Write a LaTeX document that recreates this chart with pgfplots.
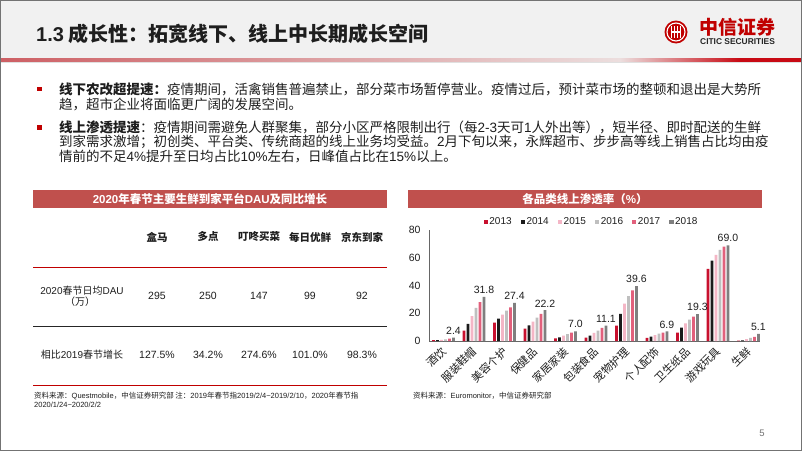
\documentclass[border=0pt]{standalone}
\usepackage{fontspec}
\setmainfont{Noto Sans CJK SC}
\newfontfamily\arialfont{Liberation Sans}
\usepackage{pgfplots}
\pgfplotsset{compat=1.18}
\usepackage{pgfplotstable}
\definecolor{titlered}{RGB}{192,80,77}
\definecolor{cred}{RGB}{192,0,0}
\definecolor{c13}{RGB}{200,16,46}
\definecolor{c14}{RGB}{26,26,26}
\definecolor{c15}{RGB}{244,182,198}
\definecolor{c16}{RGB}{191,191,191}
\definecolor{c17}{RGB}{226,96,124}
\definecolor{c18}{RGB}{127,127,127}
\definecolor{txt}{RGB}{30,30,30}
\definecolor{hdr}{RGB}{241,241,241}
\definecolor{lineA}{RGB}{205,95,100}
\definecolor{lineB}{RGB}{236,222,222}
\definecolor{lineC}{RGB}{200,10,20}
\newcommand\fs[1]{\fontsize{#1bp}{#1bp}\selectfont}
\newcommand\ar[1]{{\arialfont #1}}

\pgfplotstableread{
x a b c d e f
0 0.6 0.7 0.9 1.1 1.8 2.4
1 7.4 12.3 18.0 23.8 28.1 31.8
2 13.2 16.1 19.0 21.9 24.3 27.4
3 8.9 11.3 13.9 16.8 19.5 22.2
4 1.9 2.6 3.8 5.0 6.0 7.0
5 2.4 3.8 5.8 7.4 9.4 11.1
6 11.0 19.5 26.9 32.4 36.5 39.6
7 2.2 3.1 4.3 5.3 6.0 6.9
8 6.0 9.6 12.7 15.4 17.5 19.3
9 51.9 57.9 62.0 65.6 68.0 69.0
10 0.2 0.4 1.4 2.2 2.9 5.1
}\pendata

\begin{document}
\begin{tikzpicture}
\path[use as bounding box] (0,0) rectangle (802bp,-451bp);
\begin{scope}[x=1bp,y=-1bp]
\fill[white] (0,0) rectangle (802,451);
\fill[hdr] (1,1) rectangle (801,58);
% header line
\shade[left color=lineA, right color=lineB] (1,58) rectangle (620,61.5);
\shade[left color=lineB, right color=lineC] (620,58) rectangle (740,61.5);
\fill[lineC] (740,58) rectangle (801,61.5);
\fill[black!12] (1,61.5) rectangle (801,62.5);
% title
\node[anchor=west, inner sep=0, font={\fs{20}\bfseries}, text=txt] at (36,33.5) {\ar{1.3} 成长性：拓宽线下、线上中长期成长空间};
% logo
\fill[cred] (676,32) circle (11.5);
\draw[white, line width=1.1] (676,32) circle (9);
\fill[cred] (676,32) circle (7.6);
\foreach \dx in {-4.6,-1.6,1.6,4.6} \draw[white, line width=1.2] (676+\dx,26) -- (676+\dx,38);
\draw[white, line width=1.2] (671.4,32) -- (680.6,32);
\node[anchor=west, inner sep=0, font={\fs{19}\bfseries}, text=cred] at (699,27.5) {中信证券};
\node[anchor=west, inner sep=0, font={\arialfont\fs{8.4}\bfseries}, text=black!85] at (700,41.5) {CITIC SECURITIES};
% bullets
\fill[cred] (37,86.8) rectangle (41.5,91.3);
\fill[cred] (37,125.3) rectangle (41.5,129.8);
\begin{scope}[every node/.style={anchor=west, inner sep=0, font={\fs{13.5}}, text=txt}]
\node at (59,89) {\textbf{线下农改超提速：}疫情期间，活禽销售普遍禁止，部分菜市场暂停营业。疫情过后，预计菜市场的整顿和退出是大势所};
\node at (59,104) {趋，超市企业将面临更广阔的发展空间。};
\node at (59,127.5) {\textbf{线上渗透提速}：疫情期间需避免人群聚集，部分小区严格限制出行（每\ar{2-3}天可\ar{1}人外出等），短半径、即时配送的生鲜};
\node at (59,142.3) {到家需求激增；初创类、平台类、传统商超的线上业务均受益。\ar{2}月下旬以来，永辉超市、步步高等线上销售占比均由疫};
\node at (59,156.8) {情前的不足\ar{4\%}提升至日均占比\ar{10\%}左右，日峰值占比在\ar{15\%}以上。};
\end{scope}
% left table
\fill[titlered] (33,190) rectangle (387,208);
\node[inner sep=0, font={\fs{11.5}\bfseries}, text=white] at (210,199) {\ar{2020}年春节主要生鲜到家平台\ar{DAU}及同比增长};
\begin{scope}[every node/.style={inner sep=0, font={\fs{10.5}}, text=txt}]
\node[font={\fs{10.5}\bfseries}] at (157,237) {盒马};
\node[font={\fs{10.5}\bfseries}] at (208,237) {多点};
\node[font={\fs{10.5}\bfseries}] at (259,237) {叮咚买菜};
\node[font={\fs{10.5}\bfseries}] at (310,237) {每日优鲜};
\node[font={\fs{10.5}\bfseries}] at (362,237) {京东到家};
\node[font={\fs{10}}] at (82,291) {\ar{2020}春节日均\ar{DAU}};
\node[font={\fs{10}}] at (80,301.5) {（万）};
\node[font={\arialfont\fs{10.5}}] at (157,296) {295};
\node[font={\arialfont\fs{10.5}}] at (208,296) {250};
\node[font={\arialfont\fs{10.5}}] at (259,296) {147};
\node[font={\arialfont\fs{10.5}}] at (310,296) {99};
\node[font={\arialfont\fs{10.5}}] at (362,296) {92};
\node[font={\fs{10}}] at (82,355) {相比\ar{2019}春节增长};
\node[font={\arialfont\fs{10.5}}] at (157,355) {127.5\%};
\node[font={\arialfont\fs{10.5}}] at (208,355) {34.2\%};
\node[font={\arialfont\fs{10.5}}] at (259,355) {274.6\%};
\node[font={\arialfont\fs{10.5}}] at (310,355) {101.0\%};
\node[font={\arialfont\fs{10.5}}] at (362,355) {98.3\%};
\end{scope}
\draw[cred, line width=0.9] (33,267) -- (387,267);
\draw[black!85, line width=0.9] (33,326) -- (387,326);
\draw[cred, line width=0.9] (33,385) -- (387,385);
\node[anchor=west, inner sep=0, font={\fs{7.5}}, text=txt] at (34,396) {资料来源：\ar{Questmobile}，中信证券研究部 注：\ar{2019}年春节指\ar{2019/2/4\textasciitilde2019/2/10}，\ar{2020}年春节指};
\node[anchor=west, inner sep=0, font={\arialfont\fs{7.5}}, text=txt] at (34,404.5) {2020/1/24\textasciitilde2020/2/2};
% right chart title
\fill[titlered] (408,190) rectangle (762,208);
\node[inner sep=0, font={\fs{11.5}\bfseries}, text=white] at (585,199) {各品类线上渗透率（\ar{\%}）};
\node[anchor=west, inner sep=0, font={\fs{7.5}}, text=txt] at (413,396) {资料来源：\ar{Euromonitor}，中信证券研究部};
\node[inner sep=0, font={\arialfont\fs{9.5}}, text=black!55] at (762,433) {5};
\end{scope}

\begin{axis}[
  at={(429bp,-341bp)}, anchor=south west,
  width=331bp, height=111bp, scale only axis,
  ybar=1.3bp, bar width=2.7bp,
  enlargelimits=false,
  xmin=-0.475, xmax=10.38, ymin=0, ymax=80,
  ytick={0,20,40,60,80},
  xtick={0,...,10},
  xticklabels={酒饮,服装鞋帽,美容个护,保健品,家居家装,包装食品,宠物护理,个人配饰,卫生纸品,游戏玩具,生鲜},
  axis x line*=bottom, axis y line*=left,
  axis line style={black!60, line width=0.8bp},
  major tick length=0pt,
  /pgf/number format/assume math mode=true,
  yticklabel style={font={\arialfont\fs{10.5}}, text=txt, xshift=-5bp},
  xticklabel style={font={\fs{11}}, text=txt, xshift=3bp, yshift=-6bp, rotate=45, anchor=east},
  legend columns=6,
  legend style={at={(0.49,1.072)}, anchor=center, draw=none, fill=none,
    font={\arialfont\fs{10}}, text=txt,
    nodes={inner sep=1.5bp},
    /tikz/every even column/.append style={column sep=7.5bp}},
  legend image code/.code={\fill[#1] (0bp,-2.2bp) rectangle (4.4bp,2.2bp);},
]
\addplot[fill=c13, draw=none] table[x=x,y=a]{\pendata};
\addplot[fill=c14, draw=none] table[x=x,y=b]{\pendata};
\addplot[fill=c15, draw=none] table[x=x,y=c]{\pendata};
\addplot[fill=c16, draw=none] table[x=x,y=d]{\pendata};
\addplot[fill=c17, draw=none] table[x=x,y=e]{\pendata};
\addplot[fill=c18, draw=none,
  nodes near coords={\pgfmathprintnumber[fixed,fixed zerofill,precision=1,assume math mode=true]{\pgfplotspointmeta}},
  nodes near coords style={font={\arialfont\fs{10.5}}, text=txt, inner sep=3bp}] table[x=x,y=f]{\pendata};
\legend{2013,2014,2015,2016,2017,2018}
\end{axis}

\begin{scope}[x=1bp,y=-1bp]
\draw[black!55, line width=1.5] (0.75,0.75) rectangle (801.25,450.25);
\end{scope}
\end{tikzpicture}
\end{document}
